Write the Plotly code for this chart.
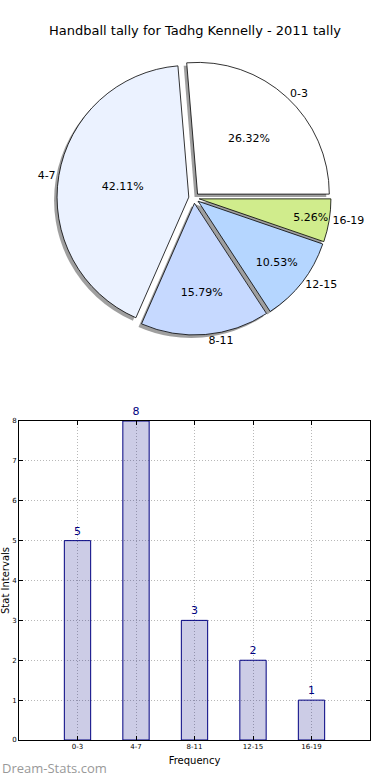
import plotly.graph_objects as go

# ---- data ----
categories = ["0-3", "4-7", "8-11", "12-15", "16-19"]
counts = [5, 8, 3, 2, 1]
pie_colors = ["#ffffff", "#ebf2ff", "#c6d9ff", "#b5d6ff", "#d0ec8c"]
y_ticks = [0, 1, 2, 3, 4, 5, 6, 7, 8]

title = "Handball tally for Tadhg Kennelly - 2011 tally"
W, H = 390, 780

def px_x(p):
    return p / W

def px_y(p):
    return 1 - p / H

# first slice starts at 3 o'clock and runs counterclockwise (matplotlib style)
rotation = 90 - 360 * counts[0] / sum(counts)
pull = [0.04] * len(categories)
R = 137
pie_x = [px_x(194 - R), px_x(194 + R)]
pie_y = [px_y(198 + R), px_y(198 - R)]
sh = 3
font = "DejaVu Sans, Liberation Sans, sans-serif"

common = dict(labels=categories, values=counts, sort=False,
              direction="counterclockwise", rotation=rotation, pull=pull)

fig = go.Figure()

# shadow
fig.add_trace(go.Pie(
    **common,
    domain=dict(x=[pie_x[0] - sh / W, pie_x[1] - sh / W], y=[pie_y[0] - sh / H, pie_y[1] - sh / H]),
    marker=dict(colors=["rgba(80,80,80,0.55)"] * 5, line=dict(width=0)),
    textinfo="none", hoverinfo="skip", showlegend=False,
))
# main pie with percentages
fig.add_trace(go.Pie(
    **common, domain=dict(x=pie_x, y=pie_y),
    marker=dict(colors=pie_colors, line=dict(color="#000000", width=0.8)),
    texttemplate="%{percent:.2%}", textposition="inside",
    insidetextorientation="horizontal",
    textfont=dict(family=font, size=11, color="#000000"),
    showlegend=False,
))
# outside labels
fig.add_trace(go.Pie(
    **common, domain=dict(x=pie_x, y=pie_y),
    marker=dict(colors=["rgba(0,0,0,0)"] * 5, line=dict(width=0)),
    textinfo="label", textposition="outside",
    textfont=dict(family=font, size=11, color="#000000"),
    hoverinfo="skip", showlegend=False,
))

# bar chart
fig.add_trace(go.Bar(
    x=list(range(len(categories))), y=counts, width=0.45,
    marker=dict(color="rgba(0,0,128,0.2)", line=dict(color="#000080", width=1)),
    text=[str(c) for c in counts], textposition="outside",
    textfont=dict(family=font, size=11, color="#000080"),
    cliponaxis=False, showlegend=False, xaxis="x", yaxis="y",
))

grid = dict(showgrid=True, gridcolor="#b8b8b8", griddash="1px,2px", gridwidth=1)

fig.update_layout(
    width=W, height=H,
    margin=dict(l=0, r=0, t=0, b=0),
    paper_bgcolor="white", plot_bgcolor="white",
    font=dict(family=font, color="#000000"),
    title=dict(text=title, x=0.5, xanchor="center", y=px_y(30), yanchor="middle",
               font=dict(family=font, size=13, color="#000000")),
    xaxis=dict(
        domain=[px_x(19), px_x(370)], range=[-1, 5],
        tickmode="array", tickvals=list(range(len(categories))), ticktext=categories,
        tickfont=dict(size=7), ticks="inside", ticklen=4, tickcolor="#000",
        **grid,
        showline=True, linecolor="#000", linewidth=1, mirror="ticks",
        zeroline=False, automargin=False,
        title=dict(text="Frequency", font=dict(size=10), standoff=6),
    ),
    yaxis=dict(
        domain=[px_y(740), px_y(421)], range=[0, 8],
        tickmode="array", tickvals=y_ticks, ticktext=[str(v) for v in y_ticks],
        tickfont=dict(size=7), ticks="inside", ticklen=4, tickcolor="#000",
        **grid,
        showline=True, linecolor="#000", linewidth=1, mirror="ticks",
        zeroline=False, automargin=False,
        title=dict(text="Stat Intervals", font=dict(size=10), standoff=2),
    ),
    annotations=[dict(
        text="Dream-Stats.com", xref="paper", yref="paper", x=0, y=px_y(779),
        xanchor="left", yanchor="bottom", showarrow=False,
        font=dict(family="Open Sans, DejaVu Sans, sans-serif", size=13, color="#999999"),
    )],
)

fig.write_html("out.html", config={"displayModeBar": False},
               post_script="document.body.style.margin='0px';document.body.style.overflow='hidden';")
